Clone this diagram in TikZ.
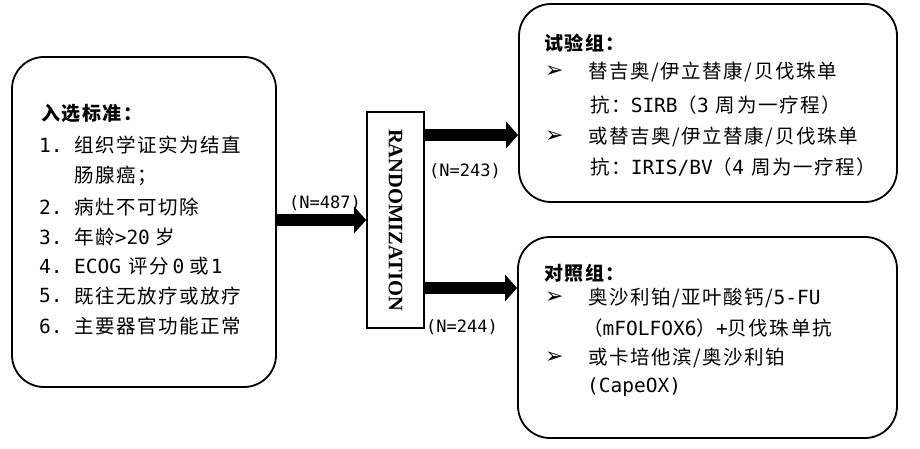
\documentclass[tikz,border=0pt]{standalone}
\usepackage{fontspec}
\usetikzlibrary{arrows.meta}
\newfontfamily\cjk[LetterSpace=8]{Noto Sans CJK SC}
\newfontfamily\lat{DejaVu Sans Mono}
\newfontfamily\dejavu{DejaVu Sans}
\newfontfamily\rndfont{Liberation Serif}
\begin{document}
\begin{tikzpicture}[x=1pt,y=-1pt,
  box/.style={draw, line width=1.8pt, rounded corners=32pt},
  tx/.style={anchor=west, inner sep=0pt, font=\cjk\fontsize{19.5}{21}\selectfont},
  ttl/.style={anchor=west, inner sep=0pt, font=\cjk\bfseries\fontsize{19}{21}\selectfont},
  bul/.style={anchor=west, inner sep=0pt, font=\dejavu\fontsize{22}{22}\selectfont},
  lbl/.style={anchor=west, inner sep=0pt, font=\lat\fontsize{17}{18}\selectfont},
  bigarrow/.style={line width=12pt, -{Triangle[length=12pt,width=26pt]}}
]
\useasboundingbox (0,0) rectangle (920,449);
\fill[white] (0,0) rectangle (920,449);

% boxes
\node[box, minimum width=264pt, minimum height=330pt] (crit) at (144,222) {};
\node[box, minimum width=378pt, minimum height=198pt] (trial) at (708,103) {};
\node[box, minimum width=379pt, minimum height=201pt] (ctrl) at (707.5,337.5) {};
\node[draw, line width=1.6pt, rotate=-90, minimum width=216pt, minimum height=57pt,
      font=\rndfont\bfseries\fontsize{20.5}{22}\selectfont] (rand) at (395.5,220) {RANDOMIZATION};

% arrows
\coordinate (s1) at (424,135);
\coordinate (s2) at (424,288);
\draw[bigarrow] (rand.south -| crit.east) -- (rand.south);
\draw[bigarrow] (s1) -- (s1 -| trial.west);
\draw[bigarrow] (s2) -- (s2 -| ctrl.west);

% labels
\node[lbl] (n487) at (289,203) {(N=487)};
\node[lbl] (n243) at (429,171) {(N=243)};
\node[lbl] (n244) at (426,327) {(N=244)};

% criteria
\node[ttl] (ct) at (41,113) {入选标准：};
\node[tx] (c1n) at (39,145) {\lat 1.};
\node[tx] (c1) at (74,145) {组织学证实为结直};
\node[tx] (c1b) at (74,176) {肠腺癌；};
\node[tx] (c2n) at (39,207) {\lat 2.};
\node[tx] (c2) at (74,207) {病灶不可切除};
\node[tx] (c3n) at (39,237) {\lat 3.};
\node[tx] (c3) at (74,237) {年龄{\lat >20}\hspace{6pt}岁};
\node[tx] (c4n) at (39,266) {\lat 4.};
\node[tx] (c4) at (74,266) {{\lat ECOG}\hspace{7pt}评分\hspace{4pt}{\lat 0}\hspace{5pt}或\hspace{2pt}{\lat 1}};
\node[tx] (c5n) at (39,296) {\lat 5.};
\node[tx] (c5) at (74,296) {既往无放疗或放疗};
\node[tx] (c6n) at (39,326) {\lat 6.};
\node[tx] (c6) at (74,326) {主要器官功能正常};

% trial group
\node[ttl] (tt) at (544,43) {试验组：};
\node[bul] (tb1) at (545,72) {➢};
\node[tx] (t1) at (588,72) {替吉奥/伊立替康/贝伐珠单};
\node[tx] (t2) at (590,105) {抗：{\lat SIRB}（{\lat 3}\hspace{7pt}周为一疗程）};
\node[bul] (tb2) at (545,137) {➢};
\node[tx] (t3) at (588,137) {或替吉奥/伊立替康/贝伐珠单};
\node[tx] (t4) at (590,167) {抗：{\lat IRIS/BV}（{\lat 4}\hspace{7pt}周为一疗程）};

% control group
\node[ttl] (kt) at (544,273) {对照组：};
\node[bul] (kb1) at (545,298) {➢};
\node[tx] (k1) at (588,298) {奥沙利铂/亚叶酸钙/{\lat 5-FU}};
\node[tx] (k2) at (583,328) {（{\lat mFOLFOX6}）{\lat +}贝伐珠单抗};
\node[bul] (kb2) at (545,358) {➢};
\node[tx] (k3) at (588,358) {或卡培他滨/奥沙利铂};
\node[tx] (k4) at (587,387) {\lat (CapeOX)};
\end{tikzpicture}
\end{document}
